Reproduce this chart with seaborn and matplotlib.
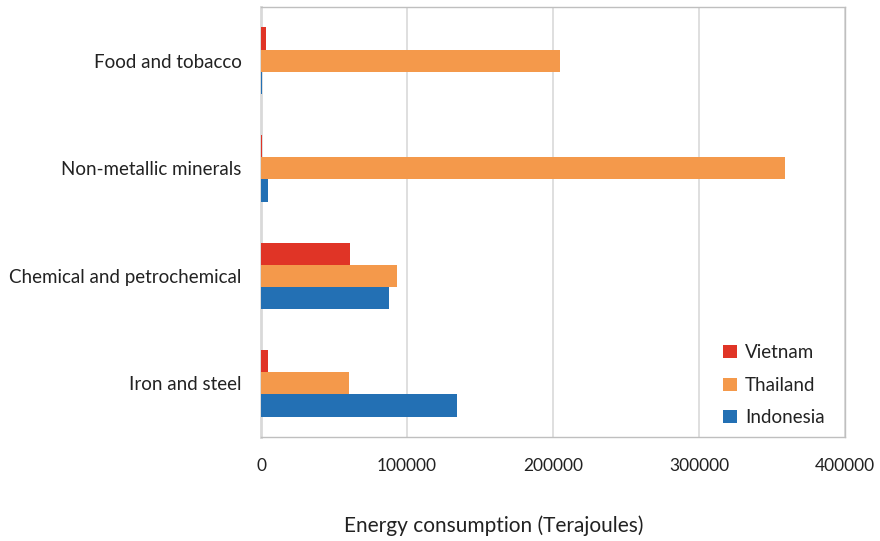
import matplotlib
matplotlib.use("Agg")
import matplotlib.pyplot as plt
import seaborn as sns
import pandas as pd

# Industrial energy consumption by sector (Terajoules)
sectors = ["Food and tobacco", "Non-metallic minerals",
           "Chemical and petrochemical", "Iron and steel"]
countries = ["Vietnam", "Thailand", "Indonesia"]
vietnam = [3500, 1000, 61000, 5000]
thailand = [205000, 359000, 93000, 60000]
indonesia = [1000, 4800, 88000, 134500]
colors = ["#E03426", "#F4994B", "#2370B4"]
x_ticks = [0, 100000, 200000, 300000, 400000]

rows = []
for name, vals in zip(countries, [vietnam, thailand, indonesia]):
    for s, v in zip(sectors, vals):
        rows.append({"Sector": s, "Country": name, "Value": v})
df = pd.DataFrame(rows)

sns.set_theme(style="white")
plt.rcParams["font.family"] = ["Lato", "DejaVu Sans"]

fig = plt.figure(figsize=(8.8, 5.41), dpi=100)
ax = fig.add_axes([0.2966, 0.192, 0.6636, 0.795])

sns.barplot(data=df, y="Sector", x="Value", hue="Country",
            order=sectors, hue_order=countries, palette=colors,
            orient="h", width=0.62, saturation=1, ax=ax, zorder=3,
            linewidth=0)

ax.set_xlim(0, 400000)
ax.set_xticks(x_ticks)
ax.set_xticklabels([str(t) for t in x_ticks], fontsize=12.5, color="#222222")
ax.tick_params(axis="x", length=0, pad=15)
ax.tick_params(axis="y", length=0, pad=14, labelsize=13.5, labelcolor="#222222")
ax.set_ylabel("")
ax.set_xlabel("Energy consumption (Terajoules)", fontsize=15, color="#222222")
ax.xaxis.label.set_verticalalignment("center")
ax.xaxis.set_label_coords(0.399, -0.205)
ax.xaxis.grid(True, color="#D9D9D9", linewidth=1.2, zorder=0)
ax.set_axisbelow(True)

for side in ["top", "right", "bottom"]:
    ax.spines[side].set_color("#BFBFBF")
    ax.spines[side].set_linewidth(1.0)
ax.spines["left"].set_color("#D9D9D9")
ax.spines["left"].set_linewidth(2.0)

leg = ax.legend(loc="lower right", frameon=False, fontsize=13.5,
                handlelength=0.7, handleheight=0.7, handletextpad=0.45,
                labelspacing=0.82, borderaxespad=0.0,
                bbox_to_anchor=(0.978, 0.008))
for t in leg.get_texts():
    t.set_color("#222222")

fig.savefig("out.png", dpi=100)
